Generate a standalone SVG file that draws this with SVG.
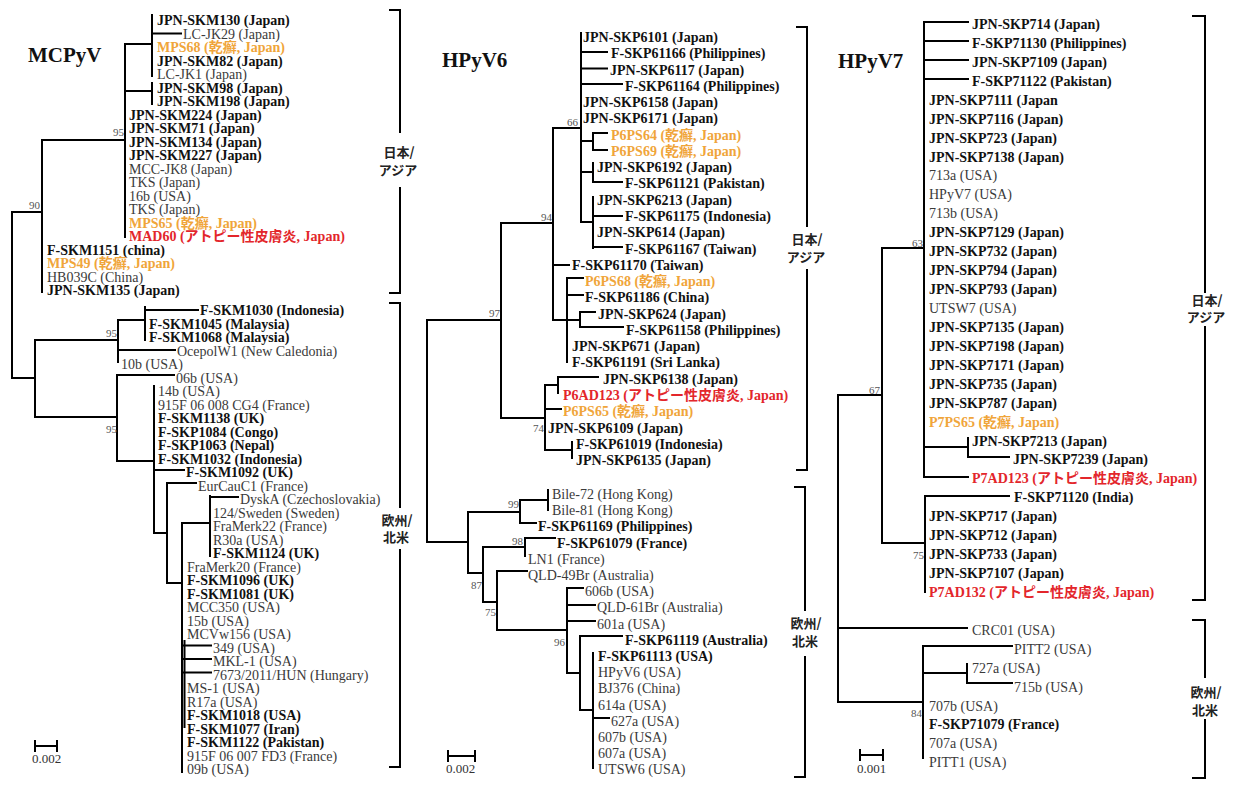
<svg xmlns="http://www.w3.org/2000/svg" width="1239" height="786" viewBox="0 0 1239 786">
<style>
text{font-family:"Liberation Serif","Noto Sans CJK JP",serif;font-size:14px}
.b{font-weight:bold;fill:#111}
.r{fill:#3a3a3a}
.o{font-weight:bold;fill:#F0A53A}
.d{font-weight:bold;fill:#E3262B}
.n{font-size:11px;fill:#555;text-anchor:end}
.t{font-weight:bold;font-size:21px;fill:#111}
.s{font-size:13px;fill:#333}
.cj{font-family:"Noto Sans CJK JP",sans-serif;font-weight:bold;font-size:13px;fill:#222;text-anchor:middle}
.ln{fill:none;stroke:#000;stroke-width:2;stroke-linecap:square}
</style>
<rect width="1239" height="786" fill="#fff"/>
<g id="connectors">
<path class="ln" d="M152,15V76 M152,33.5H181 M125,44H152 M152,83V104 M125,91H152 M125,44V237 M42,140H125 M42,140V292 M12,212H42 M12,212V378 M12,378H35 M35,340V417 M35,340H118 M118,320V362 M118,320H145 M145,307V340 M145,310H198 M118,350H175 M35,417H117 M117,375V461 M117,375H174 M117,461H154 M154,386V533 M154,470H184 M154,533H167 M167,483V583 M167,483H196 M167,583H182 M182,523V772 M182,523H210 M210,496V556 M210,497H238 M182,645.5H211 M182,659H211 M182,672.5H211 M184.5,641V727"/>
<path class="ln" d="M581,33V222 M581,52H607 M581,68.5H607 M581,84H622 M593,133V150 M593,133H607 M593,150H607 M581,141H593 M593,163V182 M593,182H622 M581,172H593 M593,197V248 M593,216H622 M593,247H622 M581,222H593 M553,128H581 M553,128V320 M553,265H569 M553,320H580 M567,278V362 M567,278H583 M567,295H583 M580,312V327 M580,312H595 M580,327H623 M501,223H553 M501,223V418 M427,320H501 M501,418H545 M545,385V450 M545,385H558 M558,377V393 M558,377H598 M545,409H561 M545,450H572 M572,442V458 M427,320V542 M427,542H468 M468,512V573 M468,512H520 M520,500V523 M520,500H548 M548,490V510 M520,523H536 M468,573H483 M483,547V602 M483,547H525 M525,538V556 M525,538H555 M483,602H497 M497,571V630 M497,571H527 M497,630H567 M567,588V673 M567,588H583 M567,605H595 M567,621H595 M567,673H580 M580,636V710 M580,636H622 M580,710H593 M593,653V768 M593,718H609"/>
<path class="ln" d="M924,22V477 M924,22H968 M924,41H968 M924,60H968 M924,79H968 M882,248H924 M968,438V457 M968,457H1009 M924,447H968 M924,477H968 M882,248V543 M838,395H882 M882,543H925 M925,496V592 M925,496H1009 M838,395V702 M838,628H967 M838,702H923 M923,646V758 M923,646H1012 M923,673H967 M967,664V683 M967,683H1012"/>
</g>
<g id="scalebars">
<path class="ln" d="M35,746H57 M35,741V751 M57,741V751 M448,756H475 M448,751V761 M475,751V761 M860,755H883 M860,750V760 M883,750V760"/>
<text class="s" x="32" y="763">0.002</text>
<text class="s" x="446" y="773">0.002</text>
<text class="s" x="857" y="773">0.001</text>
</g>
<g id="brackets">
<path class="ln" d="M390,10H400V132 M400,188V293H390 M390,303H400V507 M400,550V767H390 M797,27H807V226 M807,270V470H797 M795,487H805V610 M805,657V777H795 M1193,16H1205V292 M1205,327V600H1193 M1193,620H1205V677 M1205,720V778H1193"/>
<text class="cj" x="399" y="157">日本/</text><text class="cj" x="398" y="175">アジア</text>
<text class="cj" x="397" y="525">欧州/</text><text class="cj" x="396" y="542">北米</text>
<text class="cj" x="807" y="244">日本/</text><text class="cj" x="806" y="262">アジア</text>
<text class="cj" x="806" y="628">欧州/</text><text class="cj" x="805" y="646">北米</text>
<text class="cj" x="1207" y="305">日本/</text><text class="cj" x="1206" y="322">アジア</text>
<text class="cj" x="1206" y="697">欧州/</text><text class="cj" x="1205" y="715">北米</text>
</g>
<g id="titles">
<text class="t" x="28" y="62">MCPyV</text>
<text class="t" x="442" y="67">HPyV6</text>
<text class="t" x="838" y="68">HPyV7</text>
</g>
<g id="support">
<text class="n" x="124" y="136">95</text><text class="n" x="40" y="209">90</text>
<text class="n" x="117" y="337">95</text><text class="n" x="117" y="433">95</text>
<text class="n" x="578" y="126">66</text><text class="n" x="552" y="221">94</text>
<text class="n" x="500" y="317">97</text><text class="n" x="544" y="432">74</text>
<text class="n" x="519" y="508">99</text><text class="n" x="523" y="545">98</text>
<text class="n" x="482" y="589">87</text><text class="n" x="496" y="616">75</text>
<text class="n" x="565" y="646">96</text>
<text class="n" x="923" y="247">63</text><text class="n" x="880" y="394">67</text>
<text class="n" x="924" y="559">75</text><text class="n" x="922" y="717">84</text>
</g>
<g id="mcpyv">
<g id="m0"><text class="b" x="157" y="25">JPN-SKM130 (Japan)</text></g>
<g id="m1"><text class="r" x="183" y="38.5">LC-JK29 (Japan)</text></g>
<g id="m2"><text class="o" x="157" y="52">MPS68 (乾癬, Japan)</text></g>
<g id="m3"><text class="b" x="157" y="65.5">JPN-SKM82 (Japan)</text></g>
<g id="m4"><text class="r" x="157" y="79">LC-JK1 (Japan)</text></g>
<g id="m5"><text class="b" x="157" y="92.5">JPN-SKM98 (Japan)</text></g>
<g id="m6"><text class="b" x="157" y="106">JPN-SKM198 (Japan)</text></g>
<g id="m7"><text class="b" x="129" y="119.5">JPN-SKM224 (Japan)</text></g>
<g id="m8"><text class="b" x="129" y="133">JPN-SKM71 (Japan)</text></g>
<g id="m9"><text class="b" x="129" y="146.5">JPN-SKM134 (Japan)</text></g>
<g id="m10"><text class="b" x="129" y="160">JPN-SKM227 (Japan)</text></g>
<g id="m11"><text class="r" x="129" y="173.5">MCC-JK8 (Japan)</text></g>
<g id="m12"><text class="r" x="129" y="187">TKS (Japan)</text></g>
<g id="m13"><text class="r" x="129" y="200.5">16b (USA)</text></g>
<g id="m14"><text class="r" x="129" y="214">TKS (Japan)</text></g>
<g id="m15"><text class="o" x="129" y="227.5">MPS65 (乾癬, Japan)</text></g>
<g id="m16"><text class="d" x="129" y="241">MAD60 (アトピー性皮膚炎, Japan)</text></g>
<g id="m17"><text class="b" x="47" y="254.5">F-SKM1151 (china)</text></g>
<g id="m18"><text class="o" x="47" y="268">MPS49 (乾癬, Japan)</text></g>
<g id="m19"><text class="r" x="47" y="281.5">HB039C (China)</text></g>
<g id="m20"><text class="b" x="47" y="295">JPN-SKM135 (Japan)</text></g>
<g id="m21"><text class="b" x="200" y="315">F-SKM1030 (Indonesia)</text></g>
<g id="m22"><text class="b" x="149" y="328.5">F-SKM1045 (Malaysia)</text></g>
<g id="m23"><text class="b" x="149" y="342">F-SKM1068 (Malaysia)</text></g>
<g id="m24"><text class="r" x="177" y="355.5">OcepolW1 (New Caledonia)</text></g>
<g id="m25"><text class="r" x="121" y="369">10b (USA)</text></g>
<g id="m26"><text class="r" x="176" y="382.5">06b (USA)</text></g>
<g id="m27"><text class="r" x="158" y="396">14b (USA)</text></g>
<g id="m28"><text class="r" x="158" y="409.5">915F 06 008 CG4 (France)</text></g>
<g id="m29"><text class="b" x="158" y="423">F-SKM1138 (UK)</text></g>
<g id="m30"><text class="b" x="158" y="436.5">F-SKP1084 (Congo)</text></g>
<g id="m31"><text class="b" x="158" y="450">F-SKP1063 (Nepal)</text></g>
<g id="m32"><text class="b" x="158" y="463.5">F-SKM1032 (Indonesia)</text></g>
<g id="m33"><text class="b" x="186" y="477">F-SKM1092 (UK)</text></g>
<g id="m34"><text class="r" x="198" y="490.5">EurCauC1 (France)</text></g>
<g id="m35"><text class="r" x="240" y="504">DyskA (Czechoslovakia)</text></g>
<g id="m36"><text class="r" x="213" y="517.5">124/Sweden (Sweden)</text></g>
<g id="m37"><text class="r" x="213" y="531">FraMerk22 (France)</text></g>
<g id="m38"><text class="r" x="213" y="544.5">R30a (USA)</text></g>
<g id="m39"><text class="b" x="213" y="558">F-SKM1124 (UK)</text></g>
<g id="m40"><text class="r" x="187" y="571.5">FraMerk20 (France)</text></g>
<g id="m41"><text class="b" x="187" y="585">F-SKM1096 (UK)</text></g>
<g id="m42"><text class="b" x="187" y="598.5">F-SKM1081 (UK)</text></g>
<g id="m43"><text class="r" x="187" y="612">MCC350 (USA)</text></g>
<g id="m44"><text class="r" x="187" y="625.5">15b (USA)</text></g>
<g id="m45"><text class="r" x="187" y="639">MCVw156 (USA)</text></g>
<g id="m46"><text class="r" x="213" y="652.5">349 (USA)</text></g>
<g id="m47"><text class="r" x="213" y="666">MKL-1 (USA)</text></g>
<g id="m48"><text class="r" x="213" y="679.5">7673/2011/HUN (Hungary)</text></g>
<g id="m49"><text class="r" x="187" y="693">MS-1 (USA)</text></g>
<g id="m50"><text class="r" x="187" y="706.5">R17a (USA)</text></g>
<g id="m51"><text class="b" x="187" y="720">F-SKM1018 (USA)</text></g>
<g id="m52"><text class="b" x="187" y="733.5">F-SKM1077 (Iran)</text></g>
<g id="m53"><text class="b" x="187" y="747">F-SKM1122 (Pakistan)</text></g>
<g id="m54"><text class="r" x="187" y="760.5">915F 06 007 FD3 (France)</text></g>
<g id="m55"><text class="r" x="187" y="774">09b (USA)</text></g>
</g>
<g id="hpyv6">
<g id="s0"><text class="b" x="583" y="42">JPN-SKP6101 (Japan)</text></g>
<g id="s1"><text class="b" x="611" y="58.3">F-SKP61166 (Philippines)</text></g>
<g id="s2"><text class="b" x="610" y="74.5">JPN-SKP6117 (Japan)</text></g>
<g id="s3"><text class="b" x="625" y="90.8">F-SKP61164 (Philippines)</text></g>
<g id="s4"><text class="b" x="583" y="107.1">JPN-SKP6158 (Japan)</text></g>
<g id="s5"><text class="b" x="583" y="123.4">JPN-SKP6171 (Japan)</text></g>
<g id="s6"><text class="o" x="611" y="139.6">P6PS64 (乾癬, Japan)</text></g>
<g id="s7"><text class="o" x="611" y="155.9">P6PS69 (乾癬, Japan)</text></g>
<g id="s8"><text class="b" x="597" y="172.2">JPN-SKP6192 (Japan)</text></g>
<g id="s9"><text class="b" x="625" y="188.4">F-SKP61121 (Pakistan)</text></g>
<g id="s10"><text class="b" x="597" y="204.7">JPN-SKP6213 (Japan)</text></g>
<g id="s11"><text class="b" x="625" y="221">F-SKP61175 (Indonesia)</text></g>
<g id="s12"><text class="b" x="597" y="237.2">JPN-SKP614 (Japan)</text></g>
<g id="s13"><text class="b" x="625" y="253.5">F-SKP61167 (Taiwan)</text></g>
<g id="s14"><text class="b" x="572" y="269.8">F-SKP61170 (Taiwan)</text></g>
<g id="s15"><text class="o" x="585" y="286">P6PS68 (乾癬, Japan)</text></g>
<g id="s16"><text class="b" x="585" y="302.3">F-SKP61186 (China)</text></g>
<g id="s17"><text class="b" x="598" y="318.6">JPN-SKP624 (Japan)</text></g>
<g id="s18"><text class="b" x="626" y="334.9">F-SKP61158 (Philippines)</text></g>
<g id="s19"><text class="b" x="572" y="351.1">JPN-SKP671 (Japan)</text></g>
<g id="s20"><text class="b" x="572" y="367.4">F-SKP61191 (Sri Lanka)</text></g>
<g id="s21"><text class="b" x="603" y="383.7">JPN-SKP6138 (Japan)</text></g>
<g id="s22"><text class="d" x="563" y="399.9">P6AD123 (アトピー性皮膚炎, Japan)</text></g>
<g id="s23"><text class="o" x="563" y="416.2">P6PS65 (乾癬, Japan)</text></g>
<g id="s24"><text class="b" x="548" y="432.5">JPN-SKP6109 (Japan)</text></g>
<g id="s25"><text class="b" x="576" y="448.8">F-SKP61019 (Indonesia)</text></g>
<g id="s26"><text class="b" x="576" y="465">JPN-SKP6135 (Japan)</text></g>
<g id="s27"><text class="r" x="552" y="499">Bile-72 (Hong Kong)</text></g>
<g id="s28"><text class="r" x="552" y="515.2">Bile-81 (Hong Kong)</text></g>
<g id="s29"><text class="b" x="538" y="531.4">F-SKP61169 (Philippines)</text></g>
<g id="s30"><text class="b" x="557" y="547.6">F-SKP61079 (France)</text></g>
<g id="s31"><text class="r" x="528" y="563.8">LN1 (France)</text></g>
<g id="s32"><text class="r" x="528" y="580">QLD-49Br (Australia)</text></g>
<g id="s33"><text class="r" x="585" y="596.2">606b (USA)</text></g>
<g id="s34"><text class="r" x="597" y="612.4">QLD-61Br (Australia)</text></g>
<g id="s35"><text class="r" x="597" y="628.6">601a (USA)</text></g>
<g id="s36"><text class="b" x="625" y="644.8">F-SKP61119 (Australia)</text></g>
<g id="s37"><text class="b" x="598" y="661">F-SKP61113 (USA)</text></g>
<g id="s38"><text class="r" x="598" y="677.2">HPyV6 (USA)</text></g>
<g id="s39"><text class="r" x="598" y="693.4">BJ376 (China)</text></g>
<g id="s40"><text class="r" x="598" y="709.6">614a (USA)</text></g>
<g id="s41"><text class="r" x="611" y="725.8">627a (USA)</text></g>
<g id="s42"><text class="r" x="598" y="742">607b (USA)</text></g>
<g id="s43"><text class="r" x="598" y="758.2">607a (USA)</text></g>
<g id="s44"><text class="r" x="598" y="774.4">UTSW6 (USA)</text></g>
</g>
<g id="hpyv7">
<g id="v0"><text class="b" x="972" y="29">JPN-SKP714 (Japan)</text></g>
<g id="v1"><text class="b" x="972" y="47.9">F-SKP71130 (Philippines)</text></g>
<g id="v2"><text class="b" x="972" y="66.9">JPN-SKP7109 (Japan)</text></g>
<g id="v3"><text class="b" x="972" y="85.8">F-SKP71122 (Pakistan)</text></g>
<g id="v4"><text class="b" x="929" y="104.7">JPN-SKP7111 (Japan</text></g>
<g id="v5"><text class="b" x="929" y="123.7">JPN-SKP7116 (Japan)</text></g>
<g id="v6"><text class="b" x="929" y="142.6">JPN-SKP723 (Japan)</text></g>
<g id="v7"><text class="b" x="929" y="161.5">JPN-SKP7138 (Japan)</text></g>
<g id="v8"><text class="r" x="929" y="180.4">713a (USA)</text></g>
<g id="v9"><text class="r" x="929" y="199.4">HPyV7 (USA)</text></g>
<g id="v10"><text class="r" x="929" y="218.3">713b (USA)</text></g>
<g id="v11"><text class="b" x="929" y="237.2">JPN-SKP7129 (Japan)</text></g>
<g id="v12"><text class="b" x="929" y="256.2">JPN-SKP732 (Japan)</text></g>
<g id="v13"><text class="b" x="929" y="275.1">JPN-SKP794 (Japan)</text></g>
<g id="v14"><text class="b" x="929" y="294">JPN-SKP793 (Japan)</text></g>
<g id="v15"><text class="r" x="929" y="313">UTSW7 (USA)</text></g>
<g id="v16"><text class="b" x="929" y="331.9">JPN-SKP7135 (Japan)</text></g>
<g id="v17"><text class="b" x="929" y="350.8">JPN-SKP7198 (Japan)</text></g>
<g id="v18"><text class="b" x="929" y="369.7">JPN-SKP7171 (Japan)</text></g>
<g id="v19"><text class="b" x="929" y="388.7">JPN-SKP735 (Japan)</text></g>
<g id="v20"><text class="b" x="929" y="407.6">JPN-SKP787 (Japan)</text></g>
<g id="v21"><text class="o" x="929" y="426.5">P7PS65 (乾癬, Japan)</text></g>
<g id="v22"><text class="b" x="972" y="445.5">JPN-SKP7213 (Japan)</text></g>
<g id="v23"><text class="b" x="1013" y="464.4">JPN-SKP7239 (Japan)</text></g>
<g id="v24"><text class="d" x="972" y="483.3">P7AD123 (アトピー性皮膚炎, Japan)</text></g>
<g id="v25"><text class="b" x="1014" y="502.3">F-SKP71120 (India)</text></g>
<g id="v26"><text class="b" x="929" y="521.2">JPN-SKP717 (Japan)</text></g>
<g id="v27"><text class="b" x="929" y="540.1">JPN-SKP712 (Japan)</text></g>
<g id="v28"><text class="b" x="929" y="559">JPN-SKP733 (Japan)</text></g>
<g id="v29"><text class="b" x="929" y="578">JPN-SKP7107 (Japan)</text></g>
<g id="v30"><text class="d" x="929" y="596.9">P7AD132 (アトピー性皮膚炎, Japan)</text></g>
<g id="v31"><text class="r" x="972" y="634.8">CRC01 (USA)</text></g>
<g id="v32"><text class="r" x="1014" y="653.7">PITT2 (USA)</text></g>
<g id="v33"><text class="r" x="972" y="672.6">727a (USA)</text></g>
<g id="v34"><text class="r" x="1014" y="691.6">715b (USA)</text></g>
<g id="v35"><text class="r" x="929" y="710.5">707b (USA)</text></g>
<g id="v36"><text class="b" x="929" y="729.4">F-SKP71079 (France)</text></g>
<g id="v37"><text class="r" x="929" y="748.3">707a (USA)</text></g>
<g id="v38"><text class="r" x="929" y="767.3">PITT1 (USA)</text></g>
</g>
</svg>
